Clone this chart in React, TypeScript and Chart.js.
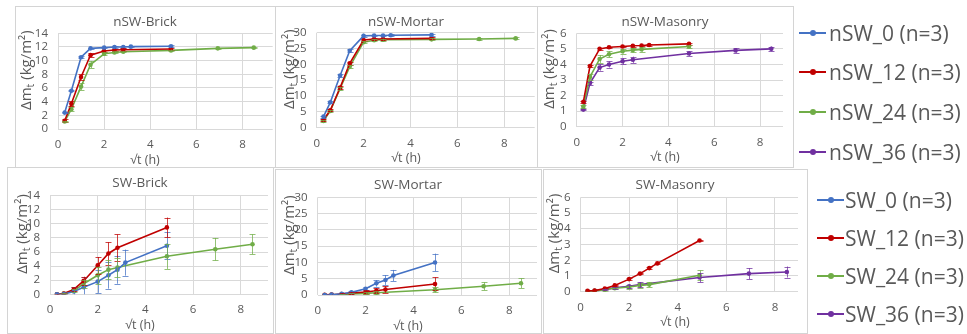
import React, { useEffect, useRef } from "react";
import { Chart, registerables } from "chart.js";
Chart.register(...registerables);

// ---------- data ----------
const xTo10h = [0.29, 0.58, 1, 1.41, 2, 2.45, 2.83, 3.16, 4.9];
const xTo8h = [0.29, 0.58, 1, 1.41, 2, 2.45, 2.83, 4.9];
const xTo72h = [0.29, 0.58, 1, 1.41, 2, 2.45, 2.83, 4.9, 6.93, 8.49];
const xTo72hNo8 = [0.29, 0.58, 1, 1.41, 2, 2.45, 4.9, 6.93, 8.49];
const xTicks = [0, 2, 4, 6, 8];

const nswBrick0 = [2.4, 5.6, 10.5, 11.8, 11.9, 12.0, 12.0, 12.05, 12.1];
const nswBrick0Err = [0.1, 0.1, 0.15, 0.1, 0.1, 0.1, 0.1, 0.1, 0.15];
const nswBrick12 = [1.2, 3.7, 7.6, 10.8, 11.4, 11.55, 11.6, 11.7];
const nswBrick12Err = [0.2, 0.4, 0.4, 0.3, 0.2, 0.2, 0.2, 0.2];
const nswBrick24 = [1.1, 2.9, 6.2, 9.4, 11.0, 11.2, 11.3, 11.5, 11.8, 11.9];
const nswBrick24Err = [0.1, 0.3, 0.5, 0.5, 0.2, 0.15, 0.1, 0.1, 0.1, 0.1];

const nswMortar0 = [3.5, 8.0, 16.5, 24.3, 29.0, 29.1, 29.1, 29.2, 29.3];
const nswMortar0Err = [0.3, 0.3, 0.4, 0.4, 0.3, 0.3, 0.3, 0.3, 0.3];
const nswMortar12 = [2.5, 5.5, 12.7, 20.3, 27.7, 28.0, 28.0, 28.2];
const nswMortar12Err = [0.3, 0.3, 0.4, 0.5, 0.3, 0.3, 0.3, 0.3];
const nswMortar24 = [2.1, 5.3, 12.4, 19.3, 27.0, 27.6, 27.8, 27.9, 28.0, 28.2];
const nswMortar24Err = [0.2, 0.3, 0.4, 0.4, 0.3, 0.3, 0.3, 0.3, 0.3, 0.3];

const nswMasonry12 = [1.6, 3.9, 5.0, 5.1, 5.15, 5.2, 5.22, 5.25, 5.32];
const nswMasonry12Err = [0.05, 0.08, 0.06, 0.05, 0.05, 0.05, 0.05, 0.05, 0.05];
const nswMasonry24 = [1.3, 3.2, 4.35, 4.65, 4.85, 4.92, 4.97, 5.15];
const nswMasonry24Err = [0.1, 0.2, 0.25, 0.2, 0.15, 0.15, 0.15, 0.1];
const nswMasonry36 = [1.1, 2.8, 3.8, 4.0, 4.2, 4.3, 4.7, 4.9, 5.0];
const nswMasonry36Err = [0.05, 0.1, 0.2, 0.2, 0.2, 0.2, 0.15, 0.15, 0.15];

const swBrick0 = [0, 0.05, 0.4, 1.0, 1.8, 2.7, 3.5, 4.5, 6.9];
const swBrick0Err = [0, 0.05, 0.6, 1.4, 1.6, 1.9, 2.0, 1.85, 1.9];
const swBrick12 = [0, 0.1, 0.7, 1.9, 4.1, 5.8, 6.6, 9.5];
const swBrick12Err = [0.05, 0.1, 0.3, 0.6, 1.2, 1.6, 1.9, 1.4];
const swBrick24 = [0, 0.1, 0.5, 1.5, 2.7, 3.5, 3.8, 5.4, 6.4, 7.1];
const swBrick24Err = [0, 0.05, 0.2, 0.6, 1.2, 1.3, 1.4, 1.8, 1.6, 1.4];

const swMortar0 = [0, 0.1, 0.4, 0.8, 1.9, 3.6, 4.6, 6.0, 10.0];
const swMortar0Err = [0, 0.05, 0.2, 0.3, 0.5, 1.0, 1.5, 1.7, 2.7];
const swMortar12 = [0.05, 0.1, 0.3, 0.6, 0.9, 1.3, 1.7, 3.4];
const swMortar12Err = [0, 0.05, 0.2, 0.3, 0.5, 0.8, 1.0, 2.0];
const swMortar24 = [0, 0.05, 0.15, 0.3, 0.5, 0.7, 1.6, 2.7, 3.6];
const swMortar24Err = [0, 0, 0.1, 0.2, 0.3, 0.4, 0.8, 1.2, 1.5];

const swMasonry12 = [0.05, 0.07, 0.2, 0.4, 0.8, 1.15, 1.5, 1.8, 3.25];
const swMasonry12Err = [0, 0, 0.02, 0.03, 0.04, 0.05, 0.05, 0.05, 0.05];
const swMasonry24 = [0.02, 0.05, 0.12, 0.22, 0.3, 0.4, 0.45, 1.05];
const swMasonry24Err = [0, 0, 0.05, 0.05, 0.1, 0.15, 0.15, 0.3];
const swMasonry36 = [0.02, 0.05, 0.15, 0.25, 0.35, 0.45, 0.9, 1.15, 1.25];
const swMasonry36Err = [0, 0, 0.05, 0.05, 0.1, 0.15, 0.3, 0.35, 0.35];

const nswLabels = ["nSW_0 (n=3)", "nSW_12 (n=3)", "nSW_24 (n=3)", "nSW_36 (n=3)"];
const swLabels = ["SW_0 (n=3)", "SW_12 (n=3)", "SW_24 (n=3)", "SW_36 (n=3)"];
const titles = ["nSW-Brick", "nSW-Mortar", "nSW-Masonry", "SW-Brick", "SW-Mortar", "SW-Masonry"];
const yMaxes = [14, 30, 6, 14, 30, 6];
const ySteps = [2, 5, 1, 2, 5, 1];
const xMaxes = [9.31, 9.3, 9.0, 9.14, 9.16, 8.95];

// ---------- styles ----------
const COLORS = ["#4472C4", "#C00000", "#70AD47", "#7030A0"];
const FONT = "'Open Sans', sans-serif";
const TEXT = "#595959";
const GRID = "#d9d9d9";

type S = { c: number; x: number[]; y: number[]; err: number[] };
const SERIES: S[][] = [
  [
    { c: 0, x: xTo10h, y: nswBrick0, err: nswBrick0Err },
    { c: 1, x: xTo8h, y: nswBrick12, err: nswBrick12Err },
    { c: 2, x: xTo72h, y: nswBrick24, err: nswBrick24Err },
  ],
  [
    { c: 0, x: xTo10h, y: nswMortar0, err: nswMortar0Err },
    { c: 1, x: xTo8h, y: nswMortar12, err: nswMortar12Err },
    { c: 2, x: xTo72h, y: nswMortar24, err: nswMortar24Err },
  ],
  [
    { c: 1, x: xTo10h, y: nswMasonry12, err: nswMasonry12Err },
    { c: 2, x: xTo8h, y: nswMasonry24, err: nswMasonry24Err },
    { c: 3, x: xTo72hNo8, y: nswMasonry36, err: nswMasonry36Err },
  ],
  [
    { c: 0, x: xTo10h, y: swBrick0, err: swBrick0Err },
    { c: 1, x: xTo8h, y: swBrick12, err: swBrick12Err },
    { c: 2, x: xTo72h, y: swBrick24, err: swBrick24Err },
  ],
  [
    { c: 0, x: xTo10h, y: swMortar0, err: swMortar0Err },
    { c: 1, x: xTo8h, y: swMortar12, err: swMortar12Err },
    { c: 2, x: xTo72hNo8, y: swMortar24, err: swMortar24Err },
  ],
  [
    { c: 1, x: xTo10h, y: swMasonry12, err: swMasonry12Err },
    { c: 2, x: xTo8h, y: swMasonry24, err: swMasonry24Err },
    { c: 3, x: xTo72hNo8, y: swMasonry36, err: swMasonry36Err },
  ],
];

type R = { l: number; t: number; r: number; b: number };
const LAYOUT: { box: R; plot: R; ytx: number }[] = [
  { box: { l: 15, t: 6, r: 275, b: 167 }, plot: { l: 58, t: 33.3, r: 274, b: 129 }, ytx: 27 },
  { box: { l: 275, t: 6, r: 537, b: 167 }, plot: { l: 316.7, t: 32.7, r: 536, b: 127.7 }, ytx: 290 },
  { box: { l: 537, t: 6, r: 793, b: 167 }, plot: { l: 576.7, t: 33.3, r: 783, b: 126.7 }, ytx: 550 },
  { box: { l: 7, t: 167, r: 273, b: 333 }, plot: { l: 50, t: 195.7, r: 268, b: 294.3 }, ytx: 23 },
  { box: { l: 275, t: 169, r: 541, b: 333 }, plot: { l: 317.7, t: 197.3, r: 537, b: 295 }, ytx: 290 },
  { box: { l: 543, t: 169, r: 807, b: 333 }, plot: { l: 580.5, t: 197.3, r: 798, b: 291.7 }, ytx: 555 },
];

function hexA(hex: string, a: number) {
  const n = parseInt(hex.slice(1), 16);
  return `rgba(${(n >> 16) & 255},${(n >> 8) & 255},${n & 255},${a})`;
}

const errorBars = {
  id: "errorBars",
  afterDatasetsDraw(chart: any) {
    const ctx = chart.ctx;
    const xs = chart.scales.x, ys = chart.scales.y;
    const a = chart.chartArea;
    ctx.save();
    ctx.beginPath();
    ctx.rect(a.left, a.top, a.right - a.left, a.bottom - a.top);
    ctx.clip();
    chart.data.datasets.forEach((ds: any) => {
      ctx.strokeStyle = hexA(ds.borderColor, 0.75);
      ctx.lineWidth = 1;
      ds.data.forEach((p: any, j: number) => {
        const e = ds.err[j];
        if (!e) return;
        const x = Math.round(xs.getPixelForValue(p.x)) + 0.5;
        const y1 = ys.getPixelForValue(p.y - e);
        const y2 = ys.getPixelForValue(p.y + e);
        ctx.beginPath();
        ctx.moveTo(x, y1);
        ctx.lineTo(x, y2);
        ctx.moveTo(x - 3, Math.round(y1) + 0.5);
        ctx.lineTo(x + 3, Math.round(y1) + 0.5);
        ctx.moveTo(x - 3, Math.round(y2) + 0.5);
        ctx.lineTo(x + 3, Math.round(y2) + 0.5);
        ctx.stroke();
      });
    });
    ctx.restore();
  },
};

function makeTexts(title: string, box: R, plot: R, ytx: number) {
  return {
    id: "texts",
    afterDraw(chart: any) {
      const ctx = chart.ctx;
      const w = box.r - box.l;
      ctx.save();
      ctx.fillStyle = TEXT;
      ctx.textAlign = "center";
      ctx.textBaseline = "middle";
      ctx.font = `13.5px ${FONT}`;
      ctx.fillText(title, w / 2, 16.5);
      ctx.font = `12.5px ${FONT}`;
      ctx.fillText("√t (h)", w / 2, plot.b - box.t + 31);
      // y title with subscript
      const cx = ytx - box.l;
      const cy = (plot.t + plot.b) / 2 - box.t - 11;
      ctx.translate(cx, cy);
      ctx.rotate(-Math.PI / 2);
      const big = `15px ${FONT}`, small = `10.5px ${FONT}`;
      const parts: [string, string, number][] = [
        ["Δm", big, 0],
        ["t", small, 4],
        [" (kg/m²)", big, 0],
      ];
      let total = 0;
      parts.forEach(([t, f]) => { ctx.font = f; total += ctx.measureText(t).width; });
      let x = -total / 2;
      ctx.textAlign = "left";
      parts.forEach(([t, f, dy]) => {
        ctx.font = f;
        ctx.fillText(t, x, dy);
        x += ctx.measureText(t).width;
      });
      ctx.restore();
    },
  };
}

function Panel({ i }: { i: number }) {
  const ref = useRef<HTMLCanvasElement>(null);
  const { box, plot, ytx } = LAYOUT[i];
  const w = box.r - box.l, h = box.b - box.t;
  useEffect(() => {
    const chart = new Chart(ref.current as HTMLCanvasElement, {
      type: "scatter",
      data: {
        datasets: SERIES[i].map((s) => ({
          data: s.x.map((x, j) => ({ x, y: s.y[j] })),
          err: s.err,
          showLine: true,
          borderColor: COLORS[s.c],
          backgroundColor: COLORS[s.c],
          borderWidth: 1.6,
          pointRadius: 2.3,
          pointBorderWidth: 0,
          pointHoverRadius: 2.3,
        })) as any,
      },
      options: {
        responsive: false,
        animation: false,
        events: [],
        layout: { padding: { left: 0, top: plot.t - box.t, right: box.r - plot.r, bottom: 0 } },
        plugins: { legend: { display: false }, title: { display: false }, tooltip: { enabled: false } },
        scales: {
          x: {
            type: "linear",
            min: 0,
            max: xMaxes[i],
            afterBuildTicks: (s: any) => { s.ticks = xTicks.map((v) => ({ value: v })); },
            afterFit: (s: any) => { s.height = box.b - plot.b; },
            grid: { color: GRID, drawTicks: false },
            border: { display: false },
            ticks: { padding: 9, font: { family: FONT, size: 11.5 }, color: TEXT, maxRotation: 0, autoSkip: false },
          },
          y: {
            type: "linear",
            min: 0,
            max: yMaxes[i],
            afterFit: (s: any) => { s.width = plot.l - box.l; },
            grid: { color: GRID, drawTicks: false },
            border: { display: false },
            ticks: { stepSize: ySteps[i], padding: 10, font: { family: FONT, size: 11.5 }, color: TEXT, autoSkip: false },
          },
        },
      },
      plugins: [errorBars, makeTexts(titles[i], box, plot, ytx)],
    });
    return () => chart.destroy();
  }, []);
  return (
    <>
      <div
        style={{
          position: "absolute", left: box.l, top: box.t, width: w + 1, height: h + 1,
          border: "1px solid #d4d4d4", boxSizing: "border-box", background: "#fff",
        }}
      />
      <canvas ref={ref} width={w} height={h} style={{ position: "absolute", left: box.l, top: box.t, width: w, height: h }} />
    </>
  );
}

function LegendItem({ label, color, x, y, textX }: { label: string; color: string; x: number; y: number; textX: number }) {
  return (
    <>
      <div style={{ position: "absolute", left: x, top: y - 1, width: 27, height: 2, background: color }} />
      <div style={{ position: "absolute", left: x + 10.5, top: y - 3, width: 6, height: 6, borderRadius: 3, background: color }} />
      <div
        style={{
          position: "absolute", left: textX, top: y - 15, height: 30, lineHeight: "30px",
          fontFamily: FONT, fontSize: 21, color: TEXT, whiteSpace: "nowrap",
        }}
      >
        {label}
      </div>
    </>
  );
}

export default function App() {
  const topY = [33, 72, 112, 152];
  const botY = [200, 238, 276, 314];
  return (
    <div style={{ position: "fixed", left: 0, top: 0, width: 967, height: 334, background: "#fff", overflow: "hidden" }}>
      {[0, 1, 2, 3, 4, 5].map((i) => <Panel key={i} i={i} />)}
      {nswLabels.map((l, k) => (
        <LegendItem key={l} label={l} color={COLORS[k]} x={799} y={topY[k]} textX={829} />
      ))}
      {swLabels.map((l, k) => (
        <LegendItem key={l} label={l} color={COLORS[k]} x={817} y={botY[k]} textX={845} />
      ))}
    </div>
  );
}
